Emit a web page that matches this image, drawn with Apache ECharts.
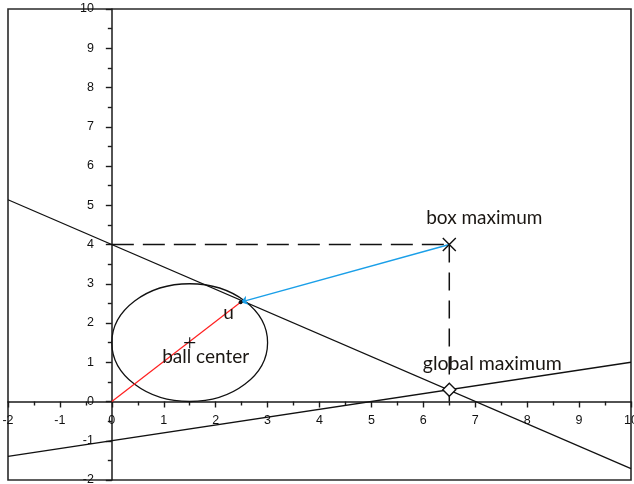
<!DOCTYPE html>
<html><head><meta charset="utf-8">
<script src="https://cdn.jsdelivr.net/npm/echarts@6/dist/echarts.min.js"></script>
<style>html,body{margin:0;padding:0;background:#fff}#c{width:634px;height:484px}</style>
</head><body><div id="c"></div>
<script>
// Data
const xTicks = [-2,-1,0,1,2,3,4,5,6,7,8,9,10];
const yTicks = [-2,-1,0,1,2,3,4,5,6,7,8,9,10];
const descLine = [[-2, 5.14], [10, -1.71]];
const ascLine = [[-2, -1.4], [10, 1.0]];
const dashH = [[0, 4], [6.5, 4]];
const dashV = [[6.5, 4], [6.5, 0]];
const redLine = [[0, 0], [2.48, 2.53]];
const blueArrow = [[6.5, 4], [2.48, 2.53]];
const boxMax = [6.5, 4];
const globalMax = [6.5, 0.3];
const ballCenter = [1.5, 1.5];
const ballRadius = 1.5;
const startPoint = [2.48, 2.53];
const labels = {box: 'box maximum', glob: 'global maximum', ball: 'ball center', u: 'u', local: 'local research\nstarting point'};

const W = 634, H = 484;
const G = {left: 8, top: 9, right: 3, bottom: 4};
const plotW = W - G.left - G.right, plotH = H - G.top - G.bottom;
const xMin = xTicks[0], xMax = xTicks[xTicks.length - 1];
const yMin = yTicks[0], yMax = yTicks[yTicks.length - 1];
// shift axes so they cross at the origin
const yAxisOffset = -plotW * (0 - xMin) / (xMax - xMin);
const xAxisOffset = -plotH * (0 - yMin) / (yMax - yMin);

const chart = echarts.init(document.getElementById('c'), null, {renderer: 'canvas'});
const txtFont = 'Lato';
const txtColor = '#1a1612';
const axisCommon = {
  type: 'value', interval: 1,
  axisLine: {onZero: false, lineStyle: {color: '#1a1a1a', width: 1.5}},
  axisTick: {show: true, length: 6, lineStyle: {color: '#1a1a1a', width: 1.4}},
  minorTick: {show: true, splitNumber: 2, length: 4, lineStyle: {color: '#1a1a1a', width: 1.4}},
  splitLine: {show: false}
};
const option = {
  animation: false,
  grid: Object.assign({show: true, borderColor: '#2a2a2a', borderWidth: 1.6, containLabel: false, outerBoundsMode: 'none'}, G),
  xAxis: Object.assign({}, axisCommon, {
    min: xMin, max: xMax, position: 'bottom', offset: xAxisOffset,
    axisLabel: {color: '#111', fontSize: 12.5, fontFamily: 'Liberation Sans', margin: 13, showMinLabel: true, showMaxLabel: true, hideOverlap: false}
  }),
  yAxis: Object.assign({}, axisCommon, {
    min: yMin, max: yMax, position: 'left', offset: yAxisOffset,
    axisLabel: {color: '#111', fontSize: 12.5, fontFamily: 'Liberation Sans', margin: 18, showMinLabel: true, showMaxLabel: true, hideOverlap: false}
  }),
  series: [
    {type: 'line', data: descLine, symbol: 'none', lineStyle: {color: '#111', width: 1.3}, silent: true},
    {type: 'line', data: ascLine, symbol: 'none', lineStyle: {color: '#111', width: 1.3}, silent: true},
    {type: 'line', data: dashH, symbol: 'none', lineStyle: {color: '#111', width: 1.5, type: [22, 9]}},
    {type: 'line', data: dashV, symbol: 'none', lineStyle: {color: '#111', width: 1.5, type: [18, 10]}},
    {
      type: 'custom',
      renderItem: function (params, api) {
        const c = api.coord([api.value(0), api.value(1)]);
        const s = api.size([api.value(2), api.value(2)]);
        return {type: 'ellipse', shape: {cx: c[0], cy: c[1], rx: s[0], ry: s[1]},
          style: {fill: 'none', stroke: '#111', lineWidth: 1.3}};
      },
      data: [[ballCenter[0], ballCenter[1], ballRadius]], z: 3
    },
    {type: 'line', data: redLine, symbol: 'none', lineStyle: {color: '#ff2020', width: 1.2}, z: 4},
    {type: 'lines', coordinateSystem: 'cartesian2d', polyline: false,
      symbol: ['none', 'arrow'], symbolSize: 7,
      lineStyle: {color: '#1a9fe8', width: 1.4, opacity: 1},
      data: [{coords: blueArrow}], z: 5},
    {type: 'scatter', data: [boxMax], symbol: 'path://M0,0L10,10M10,0L0,10', symbolSize: 13,
      itemStyle: {color: 'none', borderColor: '#111', borderWidth: 1.4, opacity: 1}, z: 6,
      label: {show: true, formatter: labels.box, position: 'inside', offset: [35, -27], color: txtColor, fontSize: 19, fontFamily: txtFont}},
    {type: 'scatter', data: [globalMax], symbol: 'diamond', symbolSize: 13,
      itemStyle: {color: '#fff', borderColor: '#111', borderWidth: 1.4, opacity: 1}, z: 8,
      label: {show: true, formatter: labels.glob, position: 'inside', offset: [43, -26], color: txtColor, fontSize: 19.5, fontFamily: txtFont}},
    {type: 'scatter', data: [ballCenter], symbol: 'path://M5,0L5,10M0,5L10,5', symbolSize: 11,
      itemStyle: {color: 'none', borderColor: '#111', borderWidth: 1.1, opacity: 1}, z: 6,
      label: {show: true, formatter: labels.ball, position: 'inside', offset: [16, 14], color: txtColor, fontSize: 19, fontFamily: txtFont}},
    {type: 'scatter', data: [startPoint], symbol: 'circle', symbolSize: 4,
      itemStyle: {color: '#111', opacity: 1}, z: 7,
      label: {show: true, formatter: labels.u, position: 'inside', offset: [-12, 11], color: txtColor, fontSize: 19, fontFamily: txtFont}},
    {type: 'scatter', data: [startPoint], symbol: 'none', z: 7, itemStyle: {opacity: 1},
      label: {show: true, formatter: labels.local, position: 'inside', align: 'left', verticalAlign: 'middle', offset: [2, -26], color: '#1f9ee6', fontSize: 13.5, lineHeight: 17, fontFamily: txtFont}}
  ]
};
chart.setOption(option);
</script></body></html>
